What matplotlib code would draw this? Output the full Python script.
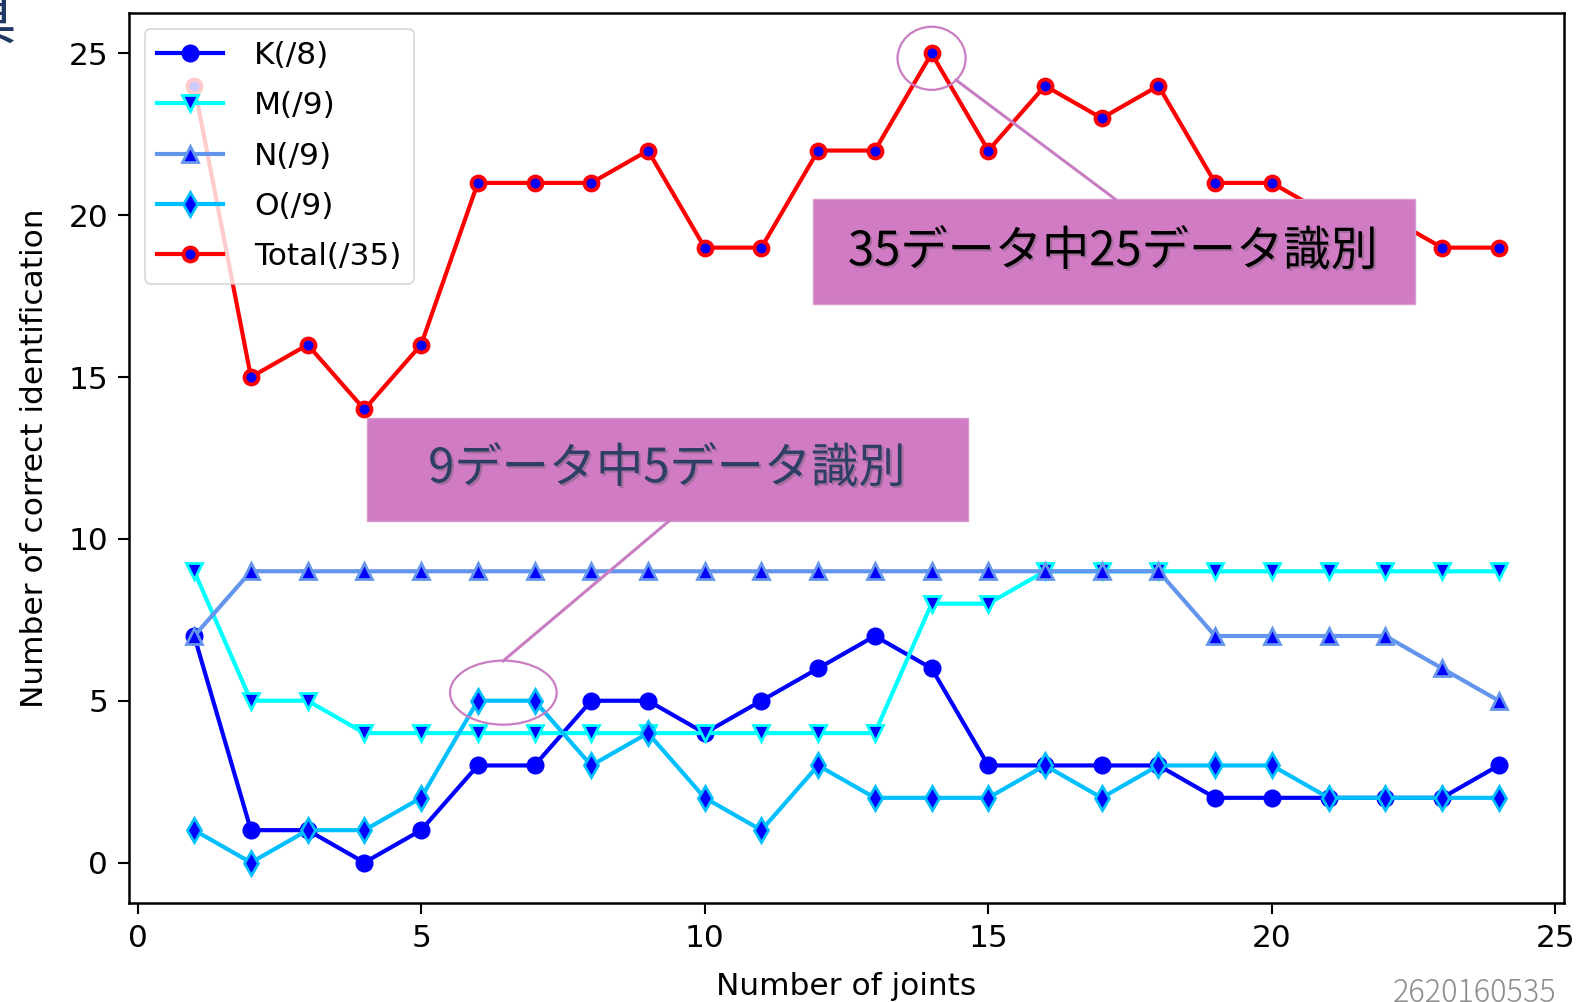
import numpy as np
import matplotlib
matplotlib.use('Agg')
import matplotlib.pyplot as plt
from matplotlib.patches import Ellipse, Rectangle
from matplotlib.lines import Line2D
import matplotlib.patheffects as pe

# datos
joints = list(range(1, 25))
k_vals = [7, 1, 1, 0, 1, 3, 3, 5, 5, 4, 5, 6, 7, 6, 3, 3, 3, 3, 2, 2, 2, 2, 2, 3]
m_vals = [9, 5, 5, 4, 4, 4, 4, 4, 4, 4, 4, 4, 4, 8, 8, 9, 9, 9, 9, 9, 9, 9, 9, 9]
n_vals = [7, 9, 9, 9, 9, 9, 9, 9, 9, 9, 9, 9, 9, 9, 9, 9, 9, 9, 7, 7, 7, 7, 6, 5]
o_vals = [1, 0, 1, 1, 2, 5, 5, 3, 4, 2, 1, 3, 2, 2, 2, 3, 2, 3, 3, 3, 2, 2, 2, 2]
total_vals = [24, 15, 16, 14, 16, 21, 21, 21, 22, 19, 19, 22, 22, 25, 22, 24, 23, 24,
              21, 21, 20, 20, 19, 19]

series_labels = ['K(/8)', 'M(/9)', 'N(/9)', 'O(/9)', 'Total(/35)']
note_total = '35データ中25データ識別'
note_o = '9データ中5データ識別'
slide_id = '2620160535'

W, H = 1578, 1002
cjk = ['Noto Sans CJK JP', 'DejaVu Sans']
pink = '#D07BC4'
pink_line = '#C97DC2'
fs = 22.5

fig = plt.figure(figsize=(W / 100, H / 100), dpi=100)
ax = fig.add_axes([129 / W, 1 - 903 / H, (1564 - 129) / W, (903 - 13) / H])

lw = 3.0
ms = 11
ax.plot(joints, k_vals, 'o-', color='blue', mfc='blue', mec='blue', lw=lw, ms=ms + 1,
        label=series_labels[0])
ax.plot(joints, m_vals, 'v-', color='cyan', mfc='blue', mec='cyan', lw=lw, ms=ms,
        mew=2, label=series_labels[1])
ax.plot(joints, n_vals, '^-', color='cornflowerblue', mfc='blue', mec='cornflowerblue',
        lw=lw, ms=ms, mew=2, label=series_labels[2])
ax.plot(joints, o_vals, 'd-', color='deepskyblue', mfc='blue', mec='deepskyblue',
        lw=lw, ms=ms + 1, mew=2, label=series_labels[3])
ax.plot(joints, total_vals, 'o-', color='red', mfc='blue', mec='red', lw=lw, ms=10,
        mew=2.8, label=series_labels[4])

ax.set_xticks([0, 5, 10, 15, 20, 25])
ax.set_yticks([0, 5, 10, 15, 20, 25])
ax.tick_params(labelsize=fs, length=8, width=1.5, pad=7)
for s in ax.spines.values():
    s.set_linewidth(1.8)
ax.set_xlabel('Number of joints', fontsize=fs, labelpad=14)
ax.set_ylabel('Number of correct identification', fontsize=fs, labelpad=14)

leg = ax.legend(loc='upper left', fontsize=fs, handlelength=2.1, borderaxespad=0.5,
                labelspacing=0.68, handletextpad=1.0)
leg.get_frame().set_linewidth(1.2)

# elipses sobre los puntos destacados
i_peak = int(np.argmax(total_vals))
ax.add_patch(Ellipse((joints[i_peak], total_vals[i_peak] - 0.15), 1.2, 1.95,
                     fill=False, ec=pink_line, lw=1.6, zorder=10))
ax.add_patch(Ellipse((6.45, o_vals[5] + 0.25), 1.88, 1.98,
                     fill=False, ec=pink_line, lw=1.6, zorder=10))

# lineas de llamada
fig.add_artist(Line2D([956 / W, 1115 / W], [1 - 80 / H, 1 - 199 / H],
                      color=pink_line, lw=2.2))
fig.add_artist(Line2D([503 / W, 669 / W], [1 - 661 / H, 1 - 521 / H],
                      color=pink_line, lw=2.2))

# cuadros de texto
fig.add_artist(Rectangle((813 / W, 1 - 304 / H), (1415 - 813) / W, (304 - 199) / H,
                         transform=fig.transFigure, fc=pink, ec='#D89AD0', lw=1))
fig.add_artist(Rectangle((367 / W, 1 - 521 / H), (968 - 367) / W, (521 - 418) / H,
                         transform=fig.transFigure, fc=pink, ec='#D89AD0', lw=1))

shadow = [pe.withSimplePatchShadow(offset=(1.5, -1.5), shadow_rgbFace='#555555', alpha=0.35)]
fig.text(1113 / W, 1 - 252 / H, note_total, family=cjk, fontsize=34, color='black',
         ha='center', va='center', path_effects=shadow)
fig.text(667 / W, 1 - 469 / H, note_o, family=cjk, fontsize=34, color='#2E3F66',
         ha='center', va='center', path_effects=shadow)

# restos de la diapositiva
fig.text(16 / W, 1 + 6 / H, '具', family=cjk, fontsize=40, color='#1F3864',
         ha='right', va='top')
fig.text(1556 / W, 0 / H, slide_id, family=cjk, fontsize=22, color='#8C8C8C',
         weight='light', ha='right', va='baseline')

fig.savefig('out.png', dpi=100)
